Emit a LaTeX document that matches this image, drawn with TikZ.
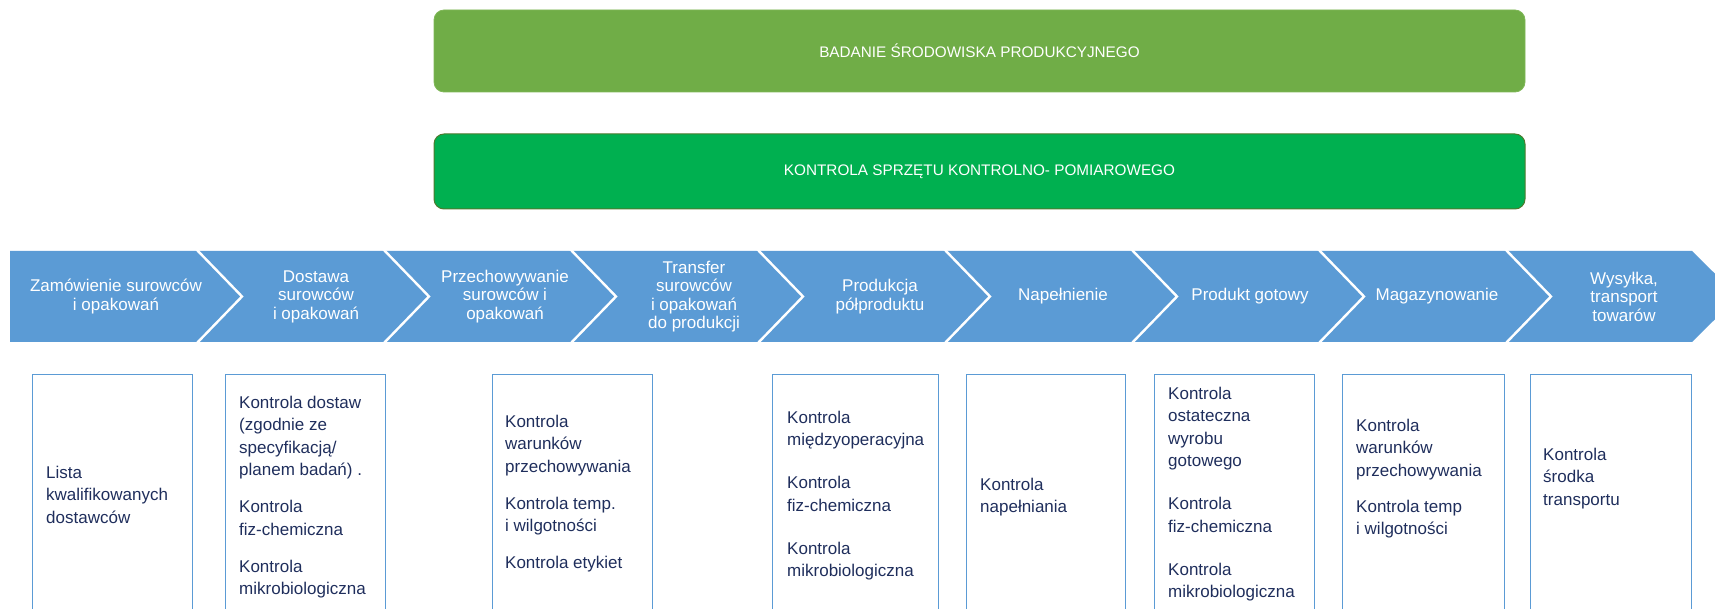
\documentclass[tikz,border=0pt]{standalone}
\usepackage{fontspec}
\setmainfont{Liberation Sans}
\definecolor{bandblue}{HTML}{5B9BD5}
\definecolor{greenA}{HTML}{70AD47}
\definecolor{greenAline}{HTML}{7FB757}
\definecolor{greenB}{HTML}{00B050}
\definecolor{greenBline}{HTML}{4E7A2E}
\definecolor{navytxt}{HTML}{1F2E5C}
\definecolor{boxline}{HTML}{5B9BD5}
\newcommand{\fl}{\rule{0pt}{12.5pt}}
\begin{document}
\begin{tikzpicture}[x=1pt,y=-1pt,
  banner/.style={rounded corners=10pt, minimum width=1091pt, text=white, inner sep=0pt,
    font=\fontsize{15.3}{17}\selectfont},
  steplabel/.style={text=white, align=center, inner sep=0pt,
    font=\fontsize{17}{18.5}\selectfont},
  ctrlbox/.style={draw=boxline, line width=1.1pt, anchor=north west, inner sep=0pt,
    minimum height=260pt},
  ctrltext/.style={text=navytxt, align=left, anchor=north west, inner sep=0pt,
    font=\fontsize{17}{22.5}\selectfont},
  sepline/.style={draw=white, line width=2.4pt}
]
\useasboundingbox (0,0) rectangle (1715,609);
\clip (0,0) rectangle (1715,609);

% top banners
\node[banner, fill=greenA, draw=greenAline, line width=0.8pt, minimum height=82pt] (env) at (979.5,51)
  {BADANIE ŚRODOWISKA PRODUKCYJNEGO};
\node[banner, fill=greenB, draw=greenBline, line width=1pt, minimum height=75pt] (equip) at (979.5,171.5)
  {KONTROLA SPRZĘTU KONTROLNO- POMIAROWEGO};

% process band
\fill[bandblue] (10,251) -- (1692,251) -- (1738,296.5) -- (1692,342) -- (10,342) -- cycle;
\foreach \sx in {196,383,570,757,944,1131,1318,1505}{
  \draw[sepline] (\sx,249) -- (\sx+46,296.5) -- (\sx,344);
}

\node[steplabel] (s1) at (116,296.5) {Zamówienie surowców\\i opakowań};
\node[steplabel] (s2) at (316,296.5) {Dostawa\\surowców\\i opakowań};
\node[steplabel] (s3) at (505,296.5) {Przechowywanie\\surowców i\\opakowań};
\node[steplabel] (s4) at (694,296.5) {Transfer\\surowców\\i opakowań\\do produkcji};
\node[steplabel] (s5) at (880,296.5) {Produkcja\\półproduktu};
\node[steplabel] (s6) at (1063,296.5) {Napełnienie};
\node[steplabel] (s7) at (1250,296.5) {Produkt gotowy};
\node[steplabel] (s8) at (1437,296.5) {Magazynowanie};
\node[steplabel] (s9) at (1624,296.5) {Wysyłka,\\transport\\towarów};

% control boxes
\node[ctrlbox, minimum width=160pt] (bA) at (32,373.5) {};
\node[ctrlbox, minimum width=160pt] (bB) at (225,373.5) {};
\node[ctrlbox, minimum width=160pt] (bC) at (492,373.5) {};
\node[ctrlbox, minimum width=166pt] (bD) at (772,373.5) {};
\node[ctrlbox, minimum width=159pt] (bE) at (966,373.5) {};
\node[ctrlbox, minimum width=160pt] (bF) at (1154,373.5) {};
\node[ctrlbox, minimum width=162pt] (bG) at (1342,373.5) {};
\node[ctrlbox, minimum width=161pt] (bH) at (1530,373.5) {};

\node[ctrltext] (tA) at (46,465.5) {\fl Lista\\kwalifikowanych\\dostawców};
\node[ctrltext] (tB) at (239,395.5) {\fl Kontrola dostaw\\(zgodnie ze\\specyfikacją/\\planem badań) .\\[14.5pt]Kontrola\\fiz-chemiczna\\[14.5pt]Kontrola\\mikrobiologiczna};
\node[ctrltext] (tC) at (505,414.5) {\fl Kontrola\\warunków\\przechowywania\\[14.5pt]Kontrola temp.\\i wilgotności\\[14.5pt]Kontrola etykiet};
\node[ctrltext] (tD) at (787,410.5) {\fl Kontrola\\międzyoperacyjna\\[20.5pt]Kontrola\\fiz-chemiczna\\[20.5pt]Kontrola\\mikrobiologiczna};
\node[ctrltext] (tE) at (980,477.5) {\fl Kontrola\\napełniania};
\node[ctrltext] (tF) at (1168,386.5) {\fl Kontrola\\ostateczna\\wyrobu\\gotowego\\[20.5pt]Kontrola\\fiz-chemiczna\\[20.5pt]Kontrola\\mikrobiologiczna};
\node[ctrltext] (tG) at (1356,418.5) {\fl Kontrola\\warunków\\przechowywania\\[13.5pt]Kontrola temp\\i wilgotności};
\node[ctrltext] (tH) at (1543,447.5) {\fl Kontrola\\środka\\transportu};
\end{tikzpicture}
\end{document}
